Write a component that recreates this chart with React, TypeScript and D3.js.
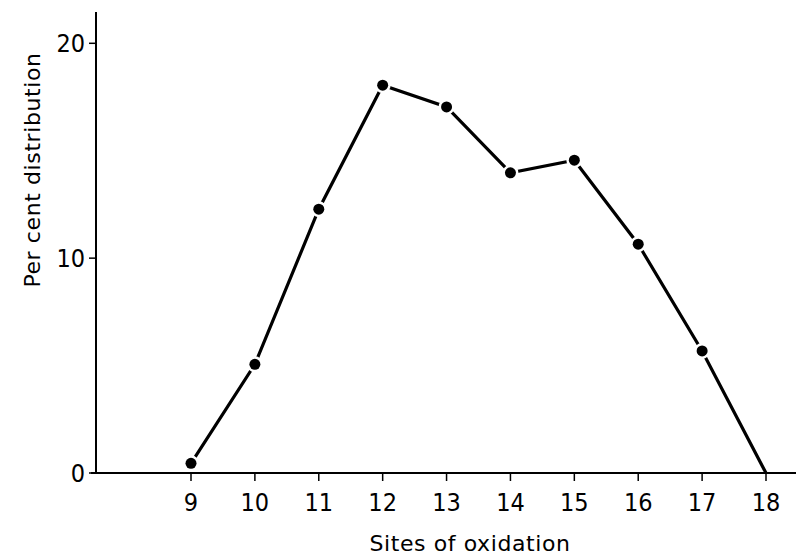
import React from "react";
import * as d3 from "d3";

// sites of oxidation (carbon number) and per cent distribution
const sites = [9, 10, 11, 12, 13, 14, 15, 16, 17, 18];
const percent = [0.45, 5.06, 12.28, 18.05, 17.04, 13.97, 14.56, 10.65, 5.68, 0];
const xTicks = [9, 10, 11, 12, 13, 14, 15, 16, 17, 18];
const yTicks = [0, 10, 20];
const dotted = [true, true, true, true, true, true, true, true, true, false];

const W = 796;
const H = 559;
const FONT = "'Liberation Sans Narrow', 'DejaVu Sans Condensed', 'DejaVu Sans', sans-serif";

export default function App() {
  const x = d3.scaleLinear().domain([9, 18]).range([191, 766]);
  const y = d3.scaleLinear().domain([0, 20]).range([473, 43.3]);
  const axisX = 96;
  const axisY = y(0);

  const line = d3
    .line<number>()
    .x((d, i) => x(sites[i]))
    .y((d) => y(d));

  return (
    <svg
      width={W}
      height={H}
      style={{ position: "absolute", left: 0, top: 0, background: "#fff" }}
    >
      {/* axes */}
      <line x1={axisX} y1={12} x2={axisX} y2={axisY} stroke="#000" strokeWidth={2} />
      <line x1={91} y1={axisY} x2={W} y2={axisY} stroke="#000" strokeWidth={2} />

      {yTicks.map((t) => (
        <g key={"y" + t}>
          <line x1={axisX - 7} y1={y(t)} x2={axisX} y2={y(t)} stroke="#000" strokeWidth={1.5} />
          <text
            x={axisX - 11}
            y={y(t)}
            dy="0.35em"
            textAnchor="end"
            fontFamily={FONT}
            fontSize={25}
          >
            {t}
          </text>
        </g>
      ))}

      {xTicks.map((t) => (
        <g key={"x" + t}>
          <line x1={x(t)} y1={axisY} x2={x(t)} y2={axisY + 8} stroke="#000" strokeWidth={1.5} />
          <text x={x(t)} y={511} textAnchor="middle" fontFamily={FONT} fontSize={25}>
            {t}
          </text>
        </g>
      ))}

      {/* data line with gaps round the dots */}
      <path d={line(percent) || ""} fill="none" stroke="#000" strokeWidth={3.2} />
      {percent.map((v, i) =>
        dotted[i] ? (
          <circle
            key={i}
            cx={x(sites[i])}
            cy={y(v)}
            r={5.5}
            fill="#000"
            stroke="#fff"
            strokeWidth={5}
            paintOrder="stroke"
          />
        ) : null
      )}

      {/* axis titles */}
      <text
        x={470}
        y={551}
        textAnchor="middle"
        fontFamily="'DejaVu Sans', sans-serif"
        fontSize={22}
        letterSpacing={0.6}
      >
        Sites of oxidation
      </text>
      <text
        transform="translate(40,170) rotate(-90)"
        textAnchor="middle"
        fontFamily="'DejaVu Sans', sans-serif"
        fontSize={22}
        letterSpacing={0.6}
      >
        Per cent  distribution
      </text>
    </svg>
  );
}
